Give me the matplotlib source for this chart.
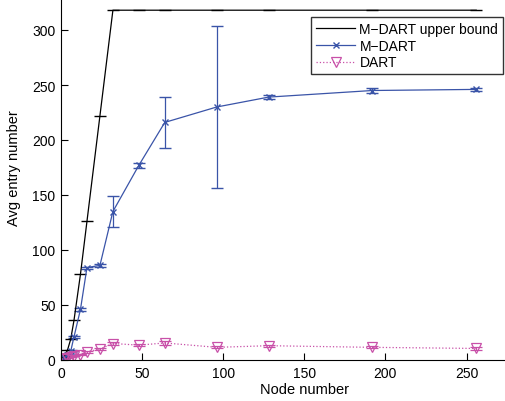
import matplotlib
matplotlib.use("Agg")
import matplotlib.pyplot as plt
from matplotlib.lines import Line2D

plt.rcParams['font.family'] = ['Liberation Sans', 'DejaVu Sans']

nodes = [2, 4, 6, 8, 12, 16, 24, 32, 48, 64, 96, 128, 192, 256]
upper_bound = [3, 9, 19, 36, 78, 126, 222, 318, 318, 318, 318, 318, 318, 318]
mdart = [2, 5, 8, 21, 46, 84, 86, 135, 177, 216, 230, 239, 245, 246]
mdart_err = [0.5, 0.5, 1, 1, 1, 1, 1.5, 14, 2.5, 23, 74, 2, 2, 1]
dart = [1, 2, 3, 4, 5, 7.5, 10, 15, 13.5, 15.5, 11.5, 13, 11.5, 10.5]
dart_err = [0.5, 0.5, 0.5, 0.5, 0.5, 1, 1, 1.5, 1, 1.5, 1, 1, 1, 1]

xticks = [0, 50, 100, 150, 200, 250]
yticks = [0, 50, 100, 150, 200, 250, 300]

W, H = 506, 402
fig = plt.figure(figsize=(W / 100, H / 100), dpi=100)
left, bottom = 61 / W, 41 / H
ax = fig.add_axes([left, bottom, 486.6 / W, 385 / H])

blue = '#3a54a8'
mag = '#c850a8'

ax.errorbar(nodes, upper_bound, yerr=[0] * len(nodes), color='black', lw=0.9,
            marker='_', markersize=9, markeredgewidth=1.0, capsize=0)
ax.errorbar(nodes, mdart, yerr=mdart_err, color=blue, lw=0.9, marker='x',
            markersize=5, markeredgewidth=1.0, capsize=4, elinewidth=0.9)
ax.errorbar(nodes, dart, yerr=dart_err, color=mag, lw=0.9, ls=':', marker='v',
            markersize=7.5, markerfacecolor='none', markeredgewidth=0.9,
            capsize=4, elinewidth=0.8)

handles = [
    Line2D([], [], color='black', lw=0.9),
    Line2D([], [], color=blue, lw=0.9, marker='x', markersize=5, markeredgewidth=1.0),
    Line2D([], [], color=mag, lw=0.9, ls=':', marker='v', markersize=7.5,
           markerfacecolor='none', markeredgewidth=0.9),
]
labels = ['M−DART upper bound', 'M−DART', 'DART']

ax.set_xlim(0, 300)
ax.set_ylim(0, 350)
ax.set_xticks(xticks)
ax.set_yticks(yticks)
ax.tick_params(direction='in', length=5, width=0.8, labelsize=10, pad=4)
for s in ['top', 'right']:
    ax.spines[s].set_visible(False)
for s in ['left', 'bottom']:
    ax.spines[s].set_linewidth(0.8)
ax.set_xlabel('Node number', fontsize=10.5, labelpad=2)
ax.set_ylabel('Avg entry number', fontsize=10.5, labelpad=8)

leg = ax.legend(handles, labels, loc='upper right',
                bbox_to_anchor=(503 / W, 1 - 18 / H),
                bbox_transform=fig.transFigure, fontsize=10, frameon=True,
                fancybox=False, edgecolor='black', borderpad=0.35,
                labelspacing=0.2, handlelength=2.8, handletextpad=0.3,
                borderaxespad=0)
leg.get_frame().set_linewidth(1.0)

fig.savefig('out.png', dpi=100)
